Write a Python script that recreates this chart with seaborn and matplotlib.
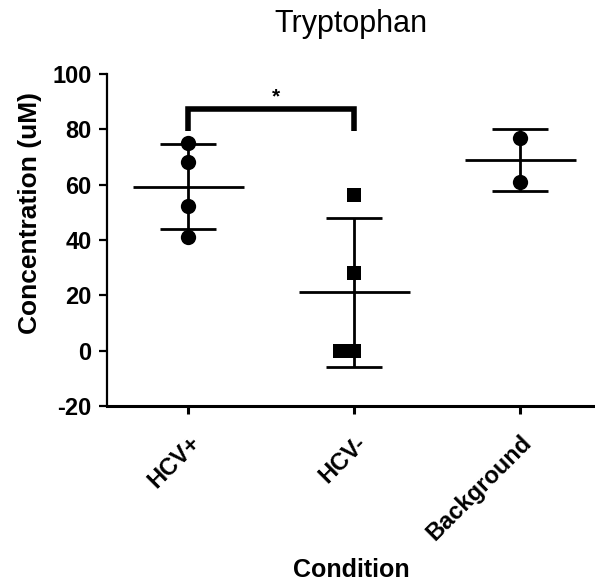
import numpy as np
import pandas as pd
import matplotlib
matplotlib.use("Agg")
import matplotlib.pyplot as plt
import seaborn as sns

categories = ["HCV+", "HCV-", "Background"]
hcv_pos = [75.0, 68.3, 52.3, 41.2]
hcv_neg = [56.3, 28.0, 0.0, 0.0]
background = [76.8, 61.1]
yticks = [-20, 0, 20, 40, 60, 80, 100]
title = "Tryptophan"
xlabel = "Condition"
ylabel = "Concentration (uM)"
sig_label = "*"

sns.set_theme(style="ticks")
plt.rcParams['font.family'] = ['Liberation Sans', 'DejaVu Sans']
plt.rcParams['text.color'] = 'black'
plt.rcParams['axes.labelcolor'] = 'black'
plt.rcParams['xtick.color'] = 'black'
plt.rcParams['ytick.color'] = 'black'

df = pd.DataFrame({
    "Condition": ["HCV+"] * len(hcv_pos) + ["HCV-"] * len(hcv_neg) + ["Background"] * len(background),
    "Concentration": hcv_pos + hcv_neg + background,
})

fig = plt.figure(figsize=(5.95, 5.84), dpi=100)
ax = fig.add_axes([107 / 595, 1 - 406 / 584, (595 - 107) / 595, (406 - 74) / 584])

markers = {"HCV+": "o", "HCV-": "s", "Background": "o"}
sizes = {"HCV+": 11, "HCV-": 10, "Background": 11}
for cat in categories:
    sub = df[df["Condition"] == cat]
    sns.swarmplot(data=sub, x="Condition", y="Concentration", order=categories,
                  color="black", marker=markers[cat], size=sizes[cat], ax=ax, zorder=3)

stats = df.groupby("Condition")["Concentration"].agg(["mean", "std"]).reindex(categories)
for i, cat in enumerate(categories):
    m, s = stats.loc[cat, "mean"], stats.loc[cat, "std"]
    ax.hlines(m, i - 0.334, i + 0.334, color="black", lw=2, zorder=2)
    ax.errorbar(i, m, yerr=s, color="black", lw=2, capsize=20, capthick=2, zorder=2)

# significance bracket
ax.plot([0, 0, 1, 1], [79.5, 87.3, 87.3, 79.5], color="black", lw=4, solid_joinstyle="miter",
        solid_capstyle="butt")
ax.text(0.53, 88.3, sig_label, ha="center", va="bottom", fontsize=15, fontweight="bold",
        color="black")

ax.set_xlim(-0.49, 2.45)
ax.set_ylim(-20, 100)
ax.set_yticks(yticks)
ax.set_yticklabels([str(t) for t in yticks], fontsize=17, fontweight="bold", color="black")
ax.set_xticks(range(len(categories)))
ax.set_xticklabels(categories, rotation=45, ha="right", rotation_mode="anchor",
                   fontsize=17, fontweight="bold", color="black")
ax.set_xlabel(xlabel, fontsize=18, fontweight="bold", color="black")
ax.xaxis.set_label_coords(0.5, -(558 - 406) / 332)
ax.set_ylabel(ylabel, fontsize=19, fontweight="bold", color="black")
ax.yaxis.set_label_coords((42 - 107) / 488, (406 - 213) / 332)
ax.set_title(title, fontsize=22, pad=30, color="black")
for sp in ["top", "right"]:
    ax.spines[sp].set_visible(False)
ax.spines["left"].set_linewidth(1.6)
ax.spines["bottom"].set_linewidth(2.2)
for sp in ["left", "bottom"]:
    ax.spines[sp].set_color("black")
ax.tick_params(axis="y", width=1.6, length=6, color="black", direction="out", pad=5)
ax.tick_params(axis="x", width=2.2, length=6, color="black", direction="out", pad=12)

fig.savefig("out.png", dpi=100)
